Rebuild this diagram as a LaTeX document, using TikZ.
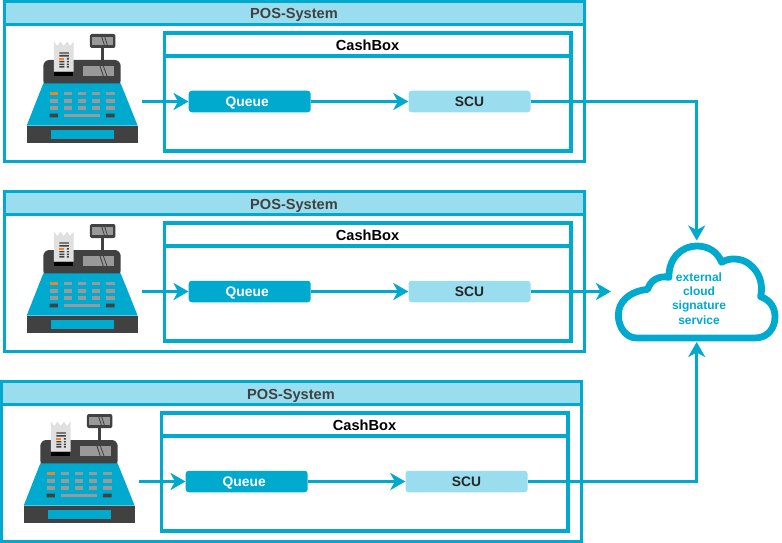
\documentclass[tikz,border=0pt]{standalone}
\usepackage{fontspec}
\setmainfont{Liberation Sans}
\usetikzlibrary{arrows.meta}
\definecolor{cblue}{HTML}{00A9CE}
\definecolor{clight}{HTML}{99DDEE}
\definecolor{cdark}{HTML}{414141}
\definecolor{cgrey}{HTML}{999999}
\definecolor{corange}{HTML}{F58220}
\definecolor{cpaper}{HTML}{E0E0E0}
\tikzset{
  x=1pt,y=-1pt,
  frameline/.style={draw=cblue,line width=3pt},
  cashline/.style={draw=cblue,line width=3.7pt},
  boxnode/.style={rectangle,rounded corners=3pt,minimum width=122pt,minimum height=21.5pt,inner sep=0pt,text height=9.5pt,text depth=0pt,font=\fontsize{13.8}{15}\selectfont\bfseries},
  queuebox/.style={boxnode,fill=cblue,text=white},
  scubox/.style={boxnode,fill=clight,text=black!85},
  flow/.style={draw=cblue,line width=2.8pt,-{Stealth[length=15pt,width=17pt,inset=4.5pt]}},
  titletext/.style={font=\fontsize{14.6}{16}\selectfont\bfseries,text=cdark,text height=10pt,text depth=0pt},
  cashtext/.style={font=\fontsize{14.6}{16}\selectfont\bfseries,text=black,text height=10pt,text depth=0pt},
  cloudtext/.style={font=\fontsize{12}{14.3}\selectfont\bfseries,text=cblue,align=center},
  register/.pic={
    % pole and pole display
    \fill[cdark] (303,140) rectangle (313,185);
    \fill[cdark,rounded corners=2pt] (270,102) rectangle (346,144);
    \fill[cgrey] (277,110) rectangle (340,135);
    \draw[cdark,line width=.8pt] (305,110) -- (313,135) (314,110) -- (322,135);
    % top of the body
    \fill[cdark,rounded corners=6pt] (130,260) -- (130,180) -- (362,180) -- (362,260) -- cycle;
    \fill[cgrey] (249,198) rectangle (342,228);
    \draw[cdark,line width=.8pt] (300,198) -- (310,228) (310,198) -- (321,228);
    % receipt
    \fill[cpaper] (162,215) -- (162,125) -- (172,138) -- (181,125) -- (191,138) -- (201,125) -- (210,138) -- (221,125) -- (221,215) -- cycle;
    \fill[black] (162,215) rectangle (220,228);
    \fill[cdark] (178,157) rectangle (207,161) (178,165) rectangle (207,170);
    \fill[corange] (178,174) rectangle (193,179);
    \fill[cdark] (178,183) rectangle (193,187) (178,191) rectangle (193,195) (178,198) rectangle (193,203)
      (201,174) rectangle (207,179) (201,183) rectangle (207,187) (201,191) rectangle (207,195) (201,198) rectangle (207,203);
    % blue face
    \fill[cblue] (130,250) -- (362,250) -- (413,377) -- (80,377) -- cycle;
    % base
    \fill[cdark] (80,377) rectangle (415,430);
    \fill[cblue] (153,390) rectangle (341,418);
    % keys
    \foreach \ky in {275,297,319}{
      \foreach \kx/\kw in {149/25,191/25,233/25,276/24,318/26}{
        \fill[cgrey] (\kx,\ky) rectangle ++(\kw,11);
      }
    }
    \fill[corange] (149,275) rectangle ++(25,11);
    \fill[cdark] (149,341) rectangle ++(25,11) (318,341) rectangle ++(26,11);
    \fill[cgrey] (191,341) rectangle ++(109,11);
  },
  possystem/.pic={
    \draw[frameline,fill=white] (4.5,1.3) rectangle (584,161.5);
    \draw[frameline,fill=clight] (4.5,1.3) rectangle (584,24.5);
    \node[titletext] (title) at (294,14) {POS-System};
    \pic[scale=1/3] at (0,0) {register};
    \draw[cashline,fill=white] (164.5,33) rectangle (571,151);
    \draw[cashline] (164.5,56) -- (571,56);
    \node[cashtext] (cash) at (367.5,45.5) {CashBox};
    \node[queuebox] (queue) at (249.7,101.5) {Queue\hspace*{5pt}};
    \node[scubox] (scu) at (469.5,101.5) {SCU};
    \coordinate (start) at (142,101.5);
    \draw[flow] (start) -- (queue);
    \draw[flow] (queue) -- (scu);
  }
}
\begin{document}
\begin{tikzpicture}
\useasboundingbox (0,0) rectangle (782,543);
\fill[white] (0,0) rectangle (782,543);
\pic (ga) at (0,0) {possystem};
\pic (gb) at (0,190) {possystem};
\pic (gc) at (-3,380) {possystem};
% cloud, drawn in the reference's 3x crop coordinates
\begin{scope}[shift={(600,220)},x=1/3*1pt,y=-1/3*1pt]
\draw[cblue,line width=6.8pt,fill=white,line join=round]
  (110,354) .. controls (78,354) and (55,322) .. (55,285)
  .. controls (55,245) and (88,214) .. (143,208)
  .. controls (150,183) and (175,165) .. (207,172)
  .. controls (205,115) and (245,78) .. (290,78)
  .. controls (325,78) and (352,95) .. (365,127)
  .. controls (385,113) and (425,112) .. (450,134)
  .. controls (478,157) and (490,190) .. (482,230)
  .. controls (510,240) and (525,262) .. (525,290)
  .. controls (525,325) and (503,354) .. (465,354)
  -- cycle;
\end{scope}
\node[cloudtext] (cloud) at (699,298.5) {external\\cloud\\signature\\service};
\coordinate (cloudtop) at (696.7,240.5);
\coordinate (cloudleft) at (611,291.5);
\coordinate (cloudbottom) at (696.7,342);
\draw[flow] (gascu.east) -| (cloudtop);
\draw[flow] (gbscu.east) -- (cloudleft);
\draw[flow] (gcscu.east) -| (cloudbottom);
\end{tikzpicture}
\end{document}
